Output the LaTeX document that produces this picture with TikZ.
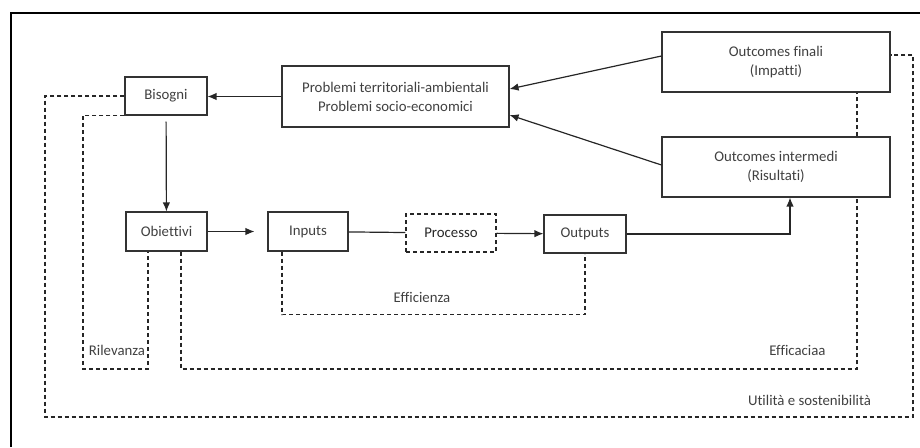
\documentclass[tikz,border=0pt]{standalone}
\usepackage{fontspec}
\setmainfont{Carlito}[Ligatures=NoCommon]
\usetikzlibrary{arrows.meta}

\begin{document}
\begin{tikzpicture}[x=1pt,y=-1pt,
		box/.style={draw=black!80, line width=1.1pt, inner sep=0pt, align=center, text=black!75, font=\fontsize{14.8}{19}\selectfont},
		dline/.style={black!85, line width=1.1pt, dash pattern=on 4pt off 3pt},
		conn/.style={black!85, line width=1.2pt},
		lbl/.style={text=black!75, inner sep=0pt, font=\fontsize{14.8}{19}\selectfont},
		>={Latex[length=9pt,width=7.5pt]}]
		\useasboundingbox (0,0) rectangle (920,447);
		\draw[line width=2pt] (11,447) -- (11,13) -- (920,13);
		
		\node[box, minimum width=82pt, minimum height=38pt] (bisogni) at (166,96) {Bisogni};
		\node[box, minimum width=227pt, minimum height=61pt] (problemi) at (395.5,96.5) {Problemi territoriali-ambientali\\Problemi socio-economici};
		\node[box, minimum width=228pt, minimum height=60pt] (ofinali) at (776,62) {Outcomes finali\\(Impatti)};
		\node[box, minimum width=228pt, minimum height=60pt] (ointermedi) at (776,167) {Outcomes intermedi\\(Risultati)};
		\node[box, minimum width=81pt, minimum height=39pt] (obiettivi) at (166.5,231.5) {Obiettivi};
		\node[box, minimum width=80pt, minimum height=39pt] (inputs) at (308,231.5) {Inputs};
		\node[box, dline, minimum width=90pt, minimum height=38pt] (processo) at (451,233) {Processo};
		\node[box, minimum width=82pt, minimum height=38pt] (outputs) at (585,234) {Outputs};
		
		\coordinate (utilbl) at (45,417);
		\coordinate (utilbr) at (913,417);
		\coordinate (rilbl) at (83,369);
		\coordinate (effbr) at (857,369);
		
		\draw[conn, ->] (problemi.west) -- (problemi.west -| bisogni.east);
		\draw[conn, ->] ([yshift=6pt]ofinali.west) -- ([yshift=7.5pt]problemi.east);
		\draw[conn, ->] ([yshift=2pt]ointermedi.west) -- ([yshift=-18.5pt]problemi.east);
		\draw[conn, ->, shorten <=6pt] (bisogni) -- (obiettivi);
		\draw[conn, ->, shorten >=13pt] (obiettivi) -- (inputs);
		\draw[conn] (inputs) -- (processo);
		\draw[conn, ->] (processo) -- (outputs);
		\draw[conn, ->] (outputs.east) -| ([xshift=14pt]ointermedi.south);
		
		\draw[dline] (bisogni.west) -| (utilbl) -- (utilbr) |- ([yshift=7pt]ofinali.east);
		\draw[dline] (bisogni.south west) -| (rilbl) -| ([xshift=-18.5pt]obiettivi.south);
		\draw[dline] ([xshift=14.5pt]obiettivi.south) |- (effbr) -- ([xshift=81pt]ointermedi.south);
		\draw[dline] ([xshift=81pt]ointermedi.north) -- ([xshift=81pt]ofinali.south);
		\draw[dline] ([xshift=-26pt]inputs.south) |- ([yshift=-61pt]outputs.south) -- (outputs.south);
		
		\node[lbl] (rilevanza) at (117,350) {Rilevanza};
		\node[lbl] (efficienza) at (422,297) {Efficienza};
		\node[lbl] (efficacia) at (797.5,350) {Efficaciaa};
		\node[lbl] (utilita) at (809.5,400) {Utilità e sostenibilità};
	\end{tikzpicture}
\end{document}
